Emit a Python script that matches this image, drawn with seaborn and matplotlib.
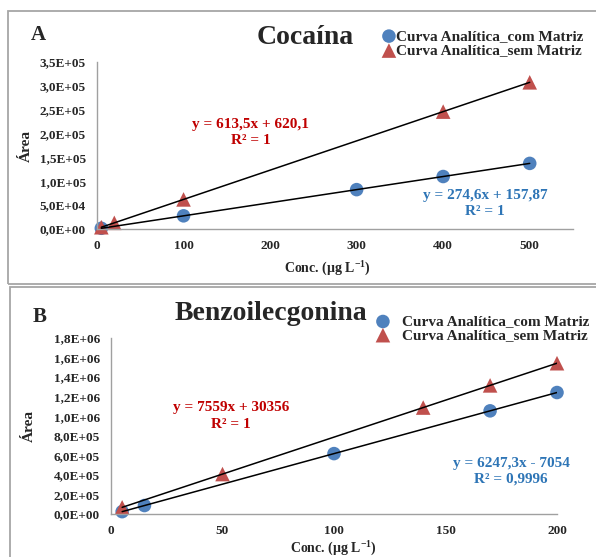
import numpy as np
import pandas as pd
import matplotlib
matplotlib.use("Agg")
import matplotlib.pyplot as plt
import seaborn as sns
from matplotlib.patches import Rectangle

# Cocaína (A)
coc_conc_com = [5, 100, 300, 400, 500]
coc_area_com = [1500, 27600, 82500, 110000, 137500]
coc_conc_sem = [5, 20, 100, 400, 500]
coc_area_sem = [3700, 12900, 62000, 246000, 307400]

# Benzoilecgonina (B)
bzg_conc_com = [5, 15, 100, 170, 200]
bzg_area_com = [24000, 86700, 617700, 1055000, 1242400]
bzg_conc_sem = [5, 50, 140, 170, 200]
bzg_area_sem = [68000, 408300, 1088600, 1315400, 1542200]

lab_com = "Curva Analítica_com Matriz"
lab_sem = "Curva Analítica_sem Matriz"
coc_eq_sem = "y = 613,5x + 620,1\nR² = 1"
coc_eq_com = "y = 274,6x + 157,87\nR² = 1"
bzg_eq_sem = "y = 7559x + 30356\nR² = 1"
bzg_eq_com = "y = 6247,3x - 7054\nR² = 0,9996"

coc_yticks = [0, 5e4, 1e5, 1.5e5, 2e5, 2.5e5, 3e5, 3.5e5]
coc_yticklabels = ["0,0E+00", "5,0E+04", "1,0E+05", "1,5E+05", "2,0E+05",
                   "2,5E+05", "3,0E+05", "3,5E+05"]
coc_xticks = [0, 100, 200, 300, 400, 500]
bzg_yticks = [0, 2e5, 4e5, 6e5, 8e5, 1e6, 1.2e6, 1.4e6, 1.6e6, 1.8e6]
bzg_yticklabels = ["0,0E+00", "2,0E+05", "4,0E+05", "6,0E+05", "8,0E+05",
                   "1,0E+06", "1,2E+06", "1,4E+06", "1,6E+06", "1,8E+06"]
bzg_xticks = [0, 50, 100, 150, 200]

sns.set_theme(style="white")
plt.rcParams["font.family"] = ["Liberation Serif", "DejaVu Serif"]
plt.rcParams["font.weight"] = "bold"
plt.rcParams["mathtext.fontset"] = "custom"
plt.rcParams["mathtext.rm"] = "Liberation Serif:bold"
plt.rcParams["mathtext.bf"] = "Liberation Serif:bold"

blue = "#4F81BD"
red = "#C0504D"
txt_blue = "#2E75B6"
txt_red = "#C00000"
W, H = 596, 557

fig = plt.figure(figsize=(W / 100, H / 100), dpi=100)

# panel frames
for (x0, y0, x1, y1) in [(8, 11, 600, 284), (10, 287, 600, 560)]:
    fig.patches.append(Rectangle((x0 / W, 1 - y1 / H), (x1 - x0) / W, (y1 - y0) / H,
                                 transform=fig.transFigure, fill=False,
                                 edgecolor="#A6A6A6", lw=1.3, zorder=0))


def px_axes(left, right, top, bottom):
    return fig.add_axes([left / W, 1 - bottom / H, (right - left) / W, (bottom - top) / H])


def draw_panel(ax, xc, yc, xs, ys, xlim, ylim, xticks, yticks, yticklabels):
    df_com = pd.DataFrame({"x": xc, "y": yc})
    df_sem = pd.DataFrame({"x": xs, "y": ys})
    for d in (df_com, df_sem):
        sns.regplot(data=d, x="x", y="y", scatter=False, ci=None, ax=ax,
                    color="black", line_kws={"lw": 1.1, "zorder": 3})
    sns.scatterplot(data=df_com, x="x", y="y", ax=ax, color=blue, marker="o",
                    s=95, edgecolor="none", label=lab_com, zorder=2, clip_on=False)
    sns.scatterplot(data=df_sem, x="x", y="y", ax=ax, color=red, marker="^",
                    s=110, edgecolor="none", label=lab_sem, zorder=2, clip_on=False)
    ax.set_xlim(*xlim)
    ax.set_ylim(*ylim)
    ax.set_xticks(xticks)
    ax.set_xticklabels([str(t) for t in xticks], fontsize=9.5, fontweight="bold")
    ax.set_yticks(yticks)
    ax.set_yticklabels(yticklabels, fontsize=9.5, fontweight="bold")
    ax.tick_params(length=0, pad=8)
    for s in ("top", "right"):
        ax.spines[s].set_visible(False)
    for s in ("left", "bottom"):
        ax.spines[s].set_color("#A0A0A0")
        ax.spines[s].set_linewidth(1.0)
    ax.set_xlabel(r"Conc. (µg L$^{-1}$)", fontsize=10, fontweight="bold")
    ax.set_ylabel("Área", fontsize=11, fontweight="bold")


# ---------- A ----------
axA = px_axes(97, 573, 62, 229)
draw_panel(axA, coc_conc_com, coc_area_com, coc_conc_sem, coc_area_sem,
           (0, 550), (0, 3.5e5), coc_xticks, coc_yticks, coc_yticklabels)
axA.xaxis.set_label_coords((327 - 97) / 476, (229 - 258) / 167)
axA.yaxis.set_label_coords((33 - 97) / 476, 0.5)
axA.legend(loc="center left", bbox_to_anchor=(379 / W, 1 - 43.5 / H),
           bbox_transform=fig.transFigure, frameon=False,
           handletextpad=-0.2, handlelength=1.3, labelspacing=0.05,
           borderpad=0, borderaxespad=0, prop={"weight": "bold", "size": 11})
fig.text(38 / W, 1 - 35 / H, "A", fontsize=15, fontweight="bold", ha="center", va="center")
fig.text(305 / W, 1 - 38 / H, "Cocaína", fontsize=20, fontweight="bold", ha="center", va="center")
fig.text(251 / W, 1 - 133 / H, coc_eq_sem, color=txt_red, fontsize=11, fontweight="bold",
         ha="center", va="center", linespacing=1.3)
fig.text(485 / W, 1 - 204 / H, coc_eq_com, color=txt_blue, fontsize=11, fontweight="bold",
         ha="center", va="center", linespacing=1.3)

# ---------- B ----------
axB = px_axes(111, 557, 338, 514)
draw_panel(axB, bzg_conc_com, bzg_area_com, bzg_conc_sem, bzg_area_sem,
           (0, 200), (0, 1.8e6), bzg_xticks, bzg_yticks, bzg_yticklabels)
axB.xaxis.set_label_coords((333 - 111) / 446, (514 - 538) / 176)
axB.yaxis.set_label_coords((36 - 111) / 446, 0.5)
axB.legend(loc="center left", bbox_to_anchor=(373 / W, 1 - 328.5 / H),
           bbox_transform=fig.transFigure, frameon=False,
           handletextpad=0.6, handlelength=1.3, labelspacing=0.0,
           borderpad=0, borderaxespad=0, prop={"weight": "bold", "size": 11})
fig.text(40 / W, 1 - 317 / H, "B", fontsize=15, fontweight="bold", ha="center", va="center")
fig.text(271 / W, 1 - 313 / H, "Benzoilecgonina", fontsize=20, fontweight="bold",
         ha="center", va="center")
fig.text(231 / W, 1 - 416 / H, bzg_eq_sem, color=txt_red, fontsize=11, fontweight="bold",
         ha="center", va="center", linespacing=1.3)
fig.text(511 / W, 1 - 471 / H, bzg_eq_com, color=txt_blue, fontsize=11, fontweight="bold",
         ha="center", va="center", linespacing=1.3)

fig.savefig("out.png", dpi=100)
